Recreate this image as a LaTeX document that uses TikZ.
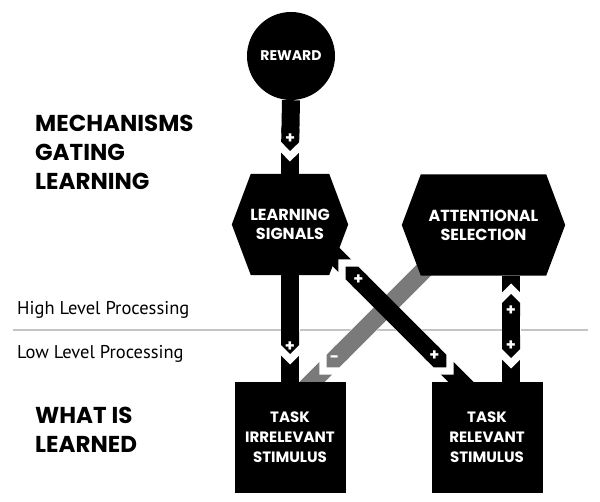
\documentclass[tikz,border=0pt]{standalone}
\usepackage{fontspec}
\setmainfont{Poppins}
\newfontfamily\levelfont{PT Sans}
\usetikzlibrary{calc,arrows.meta}
\pgfdeclarelayer{background}
\pgfsetlayers{background,main}

\definecolor{inhibgray}{HTML}{7A7A7A}
\definecolor{levelgray}{HTML}{C4C4C4}

\tikzset{
	blockfont/.style={text=white, align=center, inner sep=0pt},
	roundnode/.style={circle, fill=black, minimum size=88pt, blockfont, font=\bfseries\fontsize{14}{18}\selectfont},
	hexnode/.style={minimum height=101pt, blockfont, font=\bfseries\fontsize{16}{19}\selectfont},
	boxnode/.style={rectangle, fill=black, minimum size=111pt, blockfont, font=\bfseries\fontsize{15}{20}\selectfont},
	heading/.style={anchor=north west, align=left, inner sep=0pt, font=\bfseries\fontsize{23}{29}\selectfont},
	level/.style={anchor=base west, inner sep=0pt, font=\levelfont\fontsize{18.5}{20}\selectfont},
	stub/.style={line width=18pt},
	halo/.style={draw=white, line width=19pt},
	bar/.style={line width=18pt, shorten >=1pt, -{Triangle Cap[]}},
	twobar/.style={bar, shorten <=1pt, {Triangle Cap[]}-{Triangle Cap[]}},
	sign/.style={text=white, inner sep=0pt, font=\bfseries\fontsize{16}{16}\selectfont}
}

% hexagon body behind the node text
\newcommand{\hexfill}[1]{\fill (#1.west) -- ($(#1.north west)+(19,0)$) -- ($(#1.north east)+(-19,0)$) -- (#1.east) -- ($(#1.south east)+(-19,0)$) -- ($(#1.south west)+(19,0)$) -- cycle;}

\begin{document}
\begin{tikzpicture}[x=1pt, y=-1pt]
	\useasboundingbox (0,0) rectangle (600,502);

	% blocks
	\node[roundnode] (rew) at (291,56) {REWARD};
	\node[hexnode, minimum width=116pt] (ls) at (290,224.5) {LEARNING\\SIGNALS};
	\node[hexnode, minimum width=163pt] (as) at (483.5,225) {ATTENTIONAL\\SELECTION};
	\node[boxnode] (ti) at (290,437.5) {TASK\\IRRELEVANT\\STIMULUS};
	\node[boxnode] (tr) at (487,437.5) {TASK\\RELEVANT\\STIMULUS};

	% side labels
	\node[heading] (gate) at (35,115) {MECHANISMS\\GATING\\LEARNING};
	\node[heading] (what) at (35,407) {WHAT IS\\LEARNED};
	\node[level] (high) at (17,315) {High Level Processing};
	\node[level] (low) at (17,359) {Low Level Processing};

	% notch points
	\coordinate (n-ls) at (290,152);
	\coordinate (n-ti) at (290,355);
	\coordinate (n-as) at (511,293);
	\coordinate (n-tr) at (511,359);
	\coordinate (d-ls) at (345,266);
	\coordinate (d-tr) at (447,368);
	\coordinate (g-as) at (430,264);
	\coordinate (g-ti) at (326,368);

	\begin{pgfonlayer}{background}
		\draw[levelgray, line width=1.6pt] (13,330) -- (588,330);
		% stubs
		\draw[stub] (n-ls) -- (ls.north);
		\draw[stub] (n-ti) -- (ti.north);
		\draw[stub] (n-as) -- (n-as |- as.south);
		\draw[stub] (n-tr) -- (n-tr |- tr.north);
		\draw[stub] (d-ls) -- ($(d-ls)!-30pt!(d-tr)$);
		\draw[stub] (d-tr) -- ($(d-tr)!-30pt!(d-ls)$);
		\draw[stub, inhibgray] (g-ti) -- ($(g-ti)!-30pt!(g-as)$);
		% white cuts
		\draw[halo, shorten >=-9.5pt, -{Triangle Cap[]}] (rew.south) -- (n-ls);
		\draw[halo, shorten >=-9.5pt, -{Triangle Cap[]}] (ls.south) -- (n-ti);
		\draw[halo, shorten >=-9.5pt, shorten <=-9.5pt, {Triangle Cap[]}-{Triangle Cap[]}] (n-as) -- (n-tr);
		\draw[halo, shorten >=-9.5pt, shorten <=-9.5pt, {Triangle Cap[]}-{Triangle Cap[]}] (d-ls) -- (d-tr);
		\draw[halo, shorten >=-9.5pt, -{Triangle Cap[]}] (g-as) -- (g-ti);
		% bars
		\draw[bar, inhibgray] (g-as) -- (g-ti);
		\draw[bar] (rew.south) -- (n-ls);
		\draw[bar] (ls.south) -- (n-ti);
		\draw[twobar] (n-as) -- (n-tr);
		\draw[twobar] (d-ls) -- (d-tr);
		\hexfill{ls}
		\hexfill{as}
	\end{pgfonlayer}

	% signs
	\node[sign] (s1) at ($(n-ls)!13pt!(rew.south)$) {+};
	\node[sign] (s2) at ($(n-ti)!8pt!(ls.south)$) {+};
	\node[sign] (s3) at ($(n-as)!18pt!(n-tr)$) {+};
	\node[sign] (s4) at ($(n-tr)!13pt!(n-as)$) {+};
	\node[sign] (s5) at ($(d-ls)!19pt!(d-tr)$) {+};
	\node[sign] (s6) at ($(d-tr)!18pt!(d-ls)$) {+};
	\node[sign] (s7) at ($(g-ti)!12pt!(g-as)$) {-};
\end{tikzpicture}
\end{document}
